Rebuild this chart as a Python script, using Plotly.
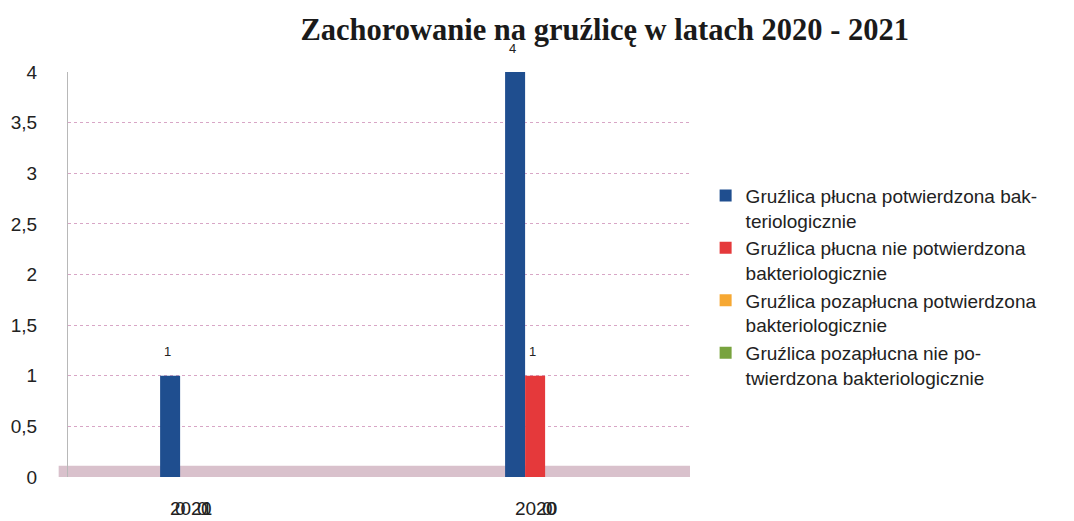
import plotly.graph_objects as go

categories = ["2021", "2020"]
series_names = [
    "Gruźlica płucna potwierdzona bak-<br>teriologicznie",
    "Gruźlica płucna nie potwierdzona<br>bakteriologicznie",
    "Gruźlica pozapłucna potwierdzona<br>bakteriologicznie",
    "Gruźlica pozapłucna nie po-<br>twierdzona bakteriologicznie",
]
series_values = [
    [1, 4],
    [0, 1],
    [0, 0],
    [0, 0],
]
series_colors = ["#1f4e8f", "#e5393b", "#f6a833", "#78a33e"]
y_ticks = [0, 0.5, 1, 1.5, 2, 2.5, 3, 3.5, 4]

# style: horizontal pixel offset of zero-value labels per series (mimics 3D projection)
zero_label_xshift = [-10, -10, -8, -24]

BARGAP = 0.768
n = len(series_values)

fig = go.Figure()
for i, (name, vals, col) in enumerate(zip(series_names, series_values, series_colors)):
    fig.add_trace(go.Bar(
        x=categories, y=vals, name=name, marker=dict(color=col, line=dict(width=0)),
        legendgroup=f"g{i}",
    ))

# data labels computed from the bar layout
bw = (1 - BARGAP) / n
annotations = []
for i, vals in enumerate(series_values):
    for ci, v in enumerate(vals):
        xc = ci - (1 - BARGAP) / 2 + (i + 0.5) * bw
        if v > 0:
            annotations.append(dict(x=xc, y=v, xref="x", yref="y", text=str(v), showarrow=False,
                                    yshift=24, xshift=-3, font=dict(size=13, color="#222")))
        else:
            annotations.append(dict(x=xc, y=v, xref="x", yref="y", text=str(v), showarrow=False,
                                    yshift=-31, xshift=zero_label_xshift[i],
                                    font=dict(size=19, color="#222")))

fig.update_layout(
    width=1074, height=521,
    margin=dict(l=68, r=384, t=72, b=44),
    paper_bgcolor="white", plot_bgcolor="white",
    separators=", ",
    barmode="group", bargap=BARGAP, bargroupgap=0,
    title=dict(text="<b>Zachorowanie na gruźlicę w latach 2020 - 2021</b>",
               x=0.563, xref="container", xanchor="center",
               y=0.944, yref="container", yanchor="middle",
               font=dict(family="Liberation Serif", size=30.5, color="#1a1a1a")),
    font=dict(family="Liberation Sans", color="#222"),
    legend=dict(xref="container", x=0.657, y=0.661, yref="container", yanchor="top", xanchor="left",
                font=dict(size=19, color="#222"), valign="top", tracegroupgap=0,
                itemwidth=30, bgcolor="rgba(0,0,0,0)"),
    annotations=annotations,
    shapes=[dict(type="rect", xref="paper", yref="y", x0=-0.015, x1=1.0, y0=-0.04, y1=0.11,
                 fillcolor="#d9c1cc", line=dict(width=0), layer="below")],
)
fig.update_xaxes(range=[-0.383, 1.42], showgrid=False, showline=False, zeroline=False,
                 automargin=False, ticklabelshift=-9,
                 tickfont=dict(size=19), ticks="outside", ticklen=14, tickcolor="rgba(0,0,0,0)")
fig.update_yaxes(range=[0, 4], tickvals=y_ticks, tickformat=",.1~f",
                 showgrid=True, gridcolor="#d8a6c6", griddash="dot", gridwidth=1,
                 zeroline=False, showline=True, linecolor="#b8b8b8", linewidth=1,
                 automargin=False,
                 tickfont=dict(size=19), ticks="outside", ticklen=26, tickcolor="rgba(0,0,0,0)")

fig.write_html("out.html", config={"displayModeBar": False},
               post_script="document.body.style.margin='0px';")
